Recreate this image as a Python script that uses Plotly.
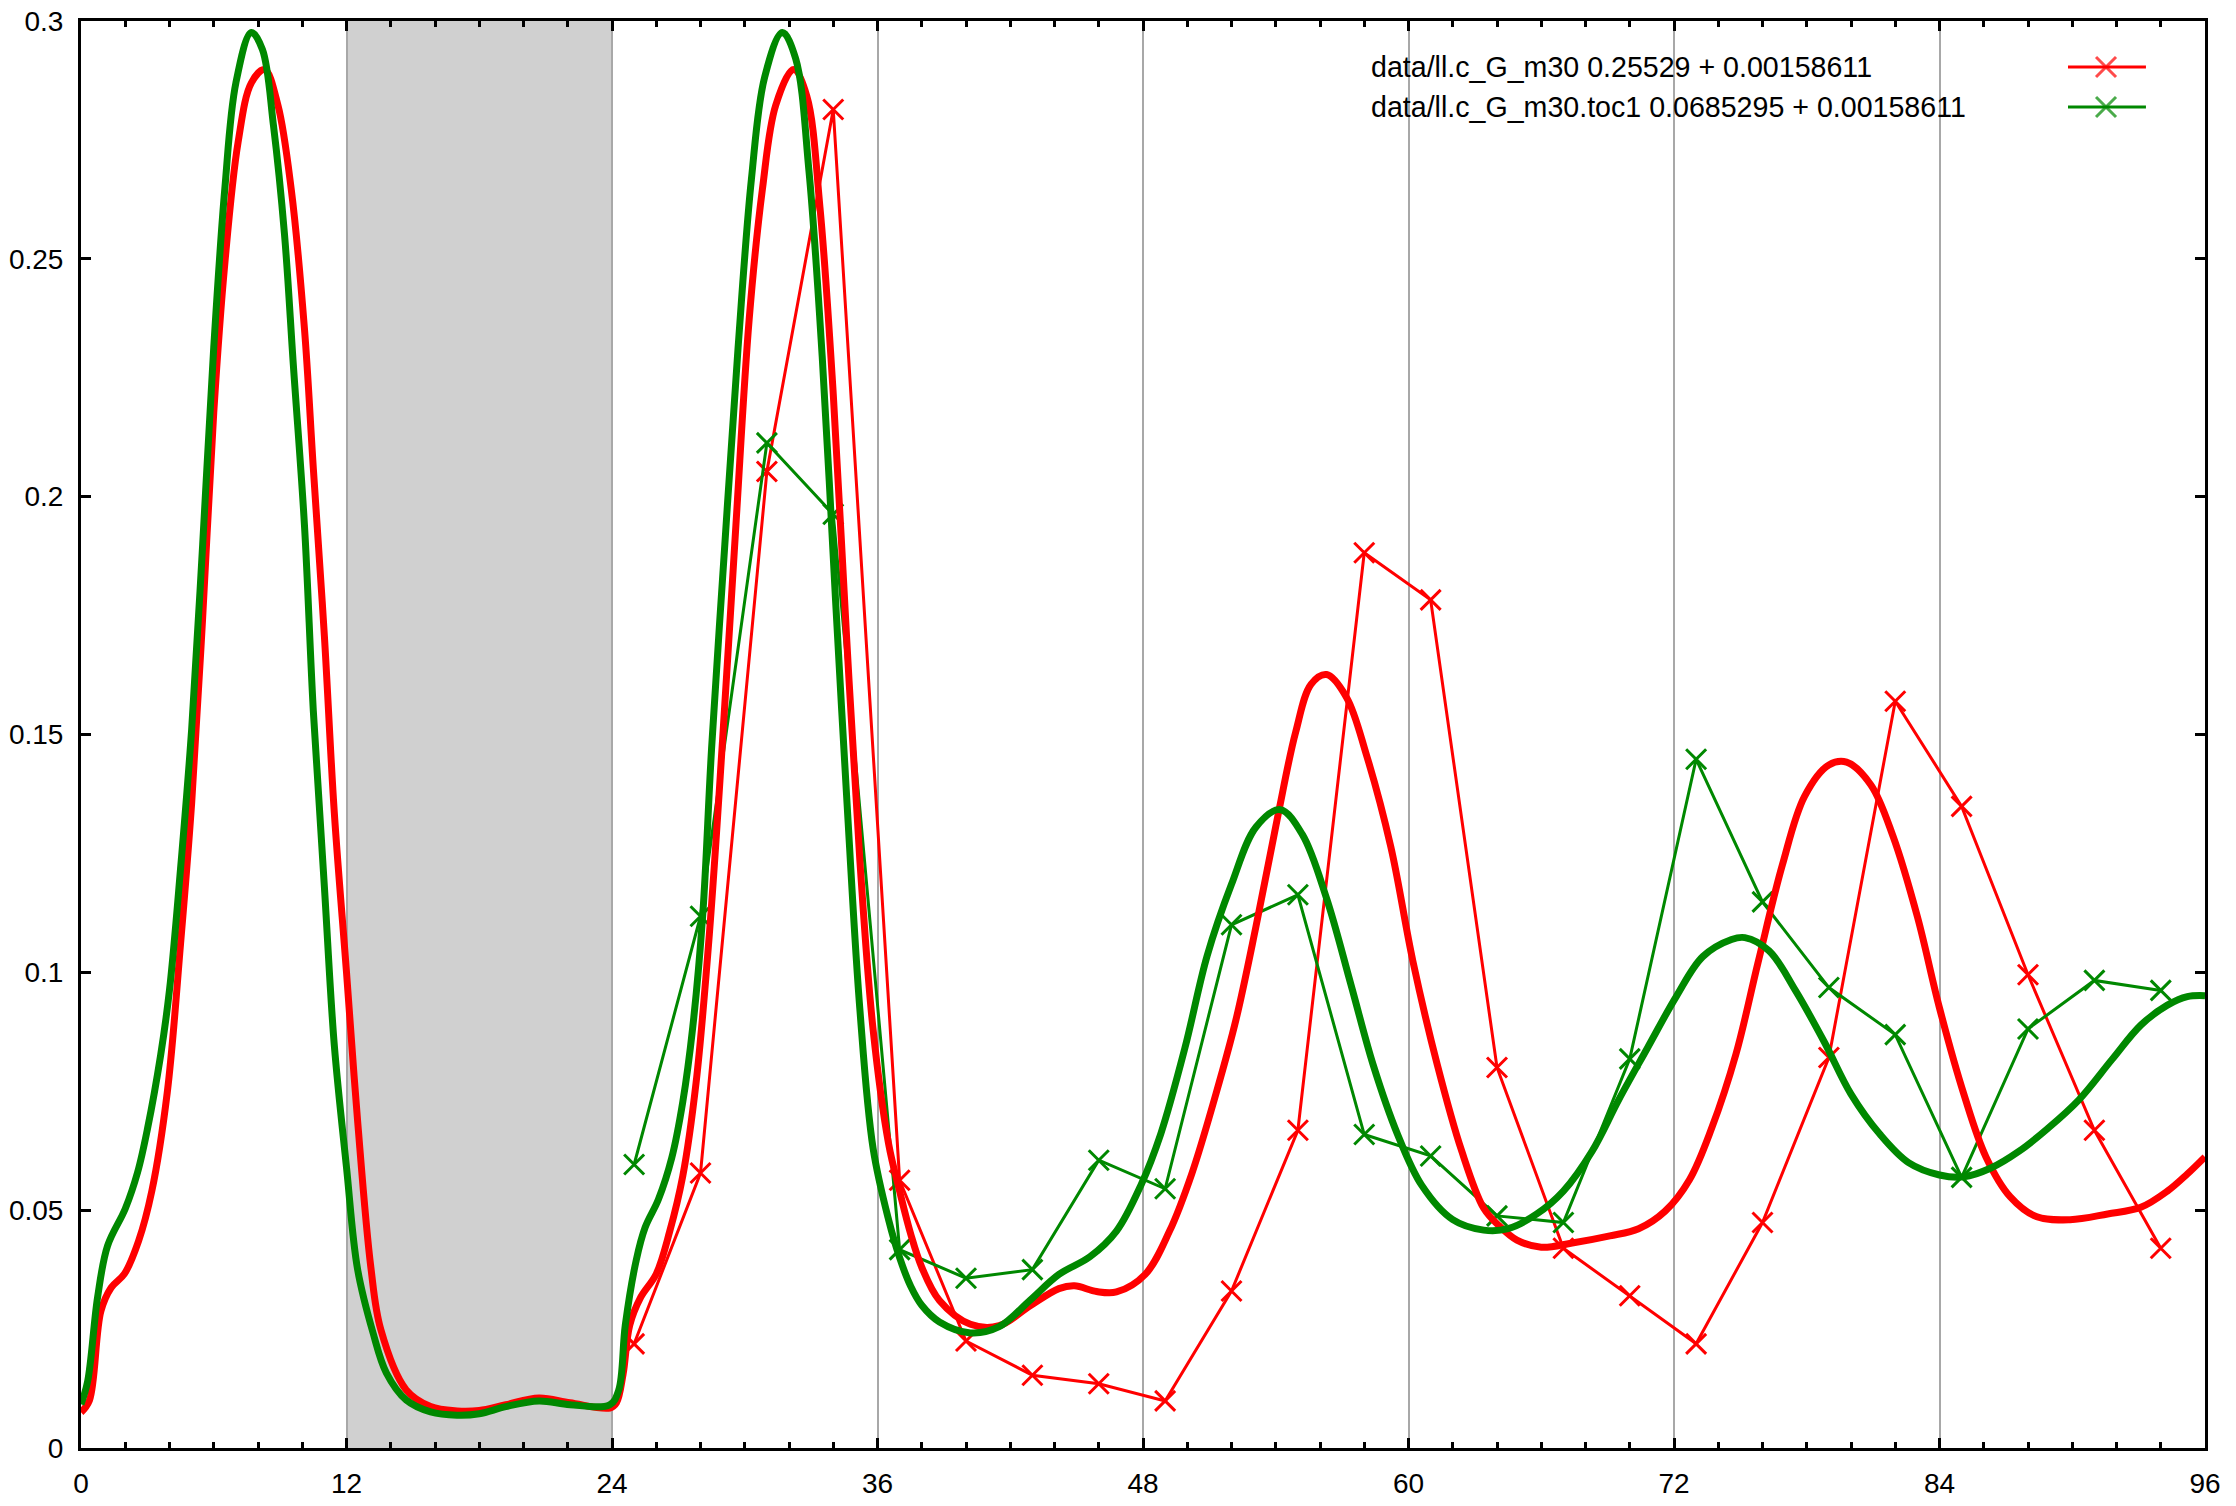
import plotly.graph_objects as go

# ---------------- data ----------------
# model curves (thick)
red_model_x = [0.0, 0.38, 0.9, 1.36, 1.96, 2.6, 3.2, 3.9, 4.5, 5.0, 5.5, 6.0, 6.5, 7.1, 7.7, 8.3, 8.9, 9.5,
               10.1, 10.5, 11.0, 11.45, 12.0, 12.5, 13.1, 13.55, 14.7, 15.8, 17.0, 18.0, 19.2, 20.7, 22.1,
               23.9, 24.2, 24.5, 24.8, 25.3, 26.0, 26.6, 27.2, 27.8, 28.4, 29.0, 29.6, 30.2, 30.8, 31.4,
               32.2, 32.8, 33.4, 34.0, 34.6, 35.2, 35.8, 36.5, 37.0, 37.5, 38.0, 38.8, 40.2, 41.5, 42.9,
               44.2, 44.9, 45.9, 46.8, 48.1, 49.2, 50.2, 51.3, 52.2, 53.1, 54.1, 54.9, 55.6, 56.3, 57.2,
               58.1, 59.2, 60.2, 61.3, 62.4, 63.4, 64.1, 64.9, 66.0, 67.4, 69.1, 70.4, 71.6, 72.7, 73.7,
               74.8, 75.8, 76.9, 77.9, 79.0, 79.8, 80.9, 81.9, 83.0, 84.0, 85.1, 86.1, 87.2, 88.4, 89.9,
               91.6, 93.1, 94.3, 95.2, 96.0]
red_model_y = [0.0075, 0.010, 0.0288, 0.0337, 0.0366, 0.0435, 0.054, 0.0748, 0.106, 0.1355, 0.1747, 0.2177,
               0.249, 0.2745, 0.287, 0.2898, 0.2823, 0.2647, 0.2353, 0.206, 0.1707, 0.1335, 0.100, 0.0689,
               0.038, 0.0249, 0.0122, 0.0087, 0.0078, 0.0079, 0.0091, 0.0105, 0.0095, 0.0084, 0.0095,
               0.0155, 0.0258, 0.0317, 0.0366, 0.0454, 0.0572, 0.0768, 0.108, 0.149, 0.194, 0.2373,
               0.2647, 0.2823, 0.2898, 0.2843, 0.2608, 0.2216, 0.1707, 0.1237, 0.088, 0.064, 0.054, 0.045,
               0.038, 0.031, 0.026, 0.0257, 0.0299, 0.0335, 0.0341, 0.0329, 0.0328, 0.0365, 0.0456, 0.0576,
               0.0745, 0.090, 0.1095, 0.133, 0.1505, 0.1606, 0.1626, 0.1578, 0.1457, 0.1264, 0.1023,
               0.0806, 0.0625, 0.0504, 0.0467, 0.0437, 0.0422, 0.0431, 0.0446, 0.0461, 0.0498, 0.0564,
               0.0672, 0.0828, 0.1021, 0.1226, 0.137, 0.1436, 0.1442, 0.1394, 0.1286, 0.1117, 0.0925,
               0.0744, 0.0612, 0.0528, 0.0486, 0.048, 0.0492, 0.0506, 0.054, 0.0576, 0.0612]

green_model_x = [0.0, 0.3, 0.75, 1.2, 2.0, 2.56, 3.0, 3.6, 4.0, 4.5, 5.0, 5.5, 6.0, 6.5, 7.0, 7.7, 8.2, 8.7,
                 9.2, 9.6, 10.1, 10.5, 11.0, 11.45, 12.0, 12.5, 13.2, 13.8, 14.7, 15.8, 17.0, 18.0, 19.2,
                 20.7, 22.1, 23.9, 24.3, 24.6, 25.1, 25.5, 26.1, 26.7, 27.2, 27.65, 28.1, 28.5, 29.1, 29.7,
                 30.3, 30.9, 31.7, 32.3, 32.9, 33.5, 34.1, 34.6, 35.2, 35.8, 36.5, 37.0, 37.5, 38.0, 38.8,
                 40.2, 41.5, 42.9, 44.2, 45.6, 46.8, 47.9, 48.8, 49.9, 50.9, 52.0, 53.1, 54.2, 55.2, 56.3,
                 57.4, 58.4, 59.5, 60.6, 62.0, 63.4, 64.5, 65.8, 67.0, 68.3, 69.5, 70.8, 72.1, 73.3, 74.6,
                 75.2, 76.3, 77.5, 78.8, 80.0, 81.3, 82.6, 84.0, 85.1, 86.3, 87.6, 88.9, 90.3, 91.8, 93.1,
                 94.3, 95.2, 96.0]
green_model_y = [0.0092, 0.014, 0.0317, 0.0425, 0.0503, 0.058, 0.067, 0.0826, 0.0963, 0.1218, 0.151, 0.190,
                 0.2314, 0.2647, 0.287, 0.2976, 0.294, 0.278, 0.255, 0.2275, 0.194, 0.155, 0.118, 0.0846,
                 0.059, 0.0376, 0.0242, 0.0158, 0.0101, 0.0076, 0.0069, 0.0072, 0.0087, 0.0099, 0.0091,
                 0.0091, 0.0121, 0.0258, 0.0396, 0.0464, 0.0523, 0.061, 0.0728, 0.0885, 0.112, 0.147, 0.19,
                 0.2314, 0.2667, 0.2882, 0.2976, 0.2921, 0.2686, 0.2295, 0.1786, 0.1374, 0.0924, 0.063,
                 0.048, 0.040, 0.034, 0.030, 0.0265, 0.0242, 0.0255, 0.0311, 0.0365, 0.0402, 0.0456,
                 0.0552, 0.066, 0.0842, 0.1035, 0.1185, 0.1305, 0.1342, 0.129, 0.1155, 0.0974, 0.0806,
                 0.066, 0.0552, 0.048, 0.0458, 0.0461, 0.0492, 0.054, 0.0624, 0.0732, 0.0841, 0.0949,
                 0.1033, 0.1069, 0.1073, 0.1045, 0.0961, 0.0853, 0.0744, 0.066, 0.060, 0.0574, 0.057,
                 0.0588, 0.0624, 0.0672, 0.0732, 0.0817, 0.0889, 0.0931, 0.0949, 0.0951]

# measured data (thin lines with x markers)
data_x = [25, 28, 31, 34, 37, 40, 43, 46, 49, 52, 55, 58, 61, 64, 67, 70, 73, 76, 79, 82, 85, 88, 91, 94]
red_data_y = [0.0219, 0.0578, 0.2053, 0.2814, 0.0563, 0.0225, 0.0153, 0.0135, 0.0099, 0.033, 0.0668, 0.1882,
              0.1783, 0.080, 0.042, 0.032, 0.0219, 0.0474, 0.0821, 0.157, 0.1349, 0.0995, 0.0668, 0.042]
green_data_y = [0.0596, 0.1118, 0.2113, 0.1963, 0.0417, 0.0357, 0.0375, 0.0605, 0.0545, 0.110, 0.1163, 0.0659,
                0.0614, 0.0488, 0.0474, 0.0818, 0.1448, 0.1148, 0.0968, 0.0869, 0.0569, 0.0881, 0.0983, 0.0962]

legend_labels = ["data/ll.c_G_m30 0.25529 + 0.00158611",
                 "data/ll.c_G_m30.toc1 0.0685295 + 0.00158611"]

x_ticks = [0, 12, 24, 36, 48, 60, 72, 84, 96]
y_ticks = [0, 0.05, 0.1, 0.15, 0.2, 0.25, 0.3]
y_tick_text = ["0", "0.05", "0.1", "0.15", "0.2", "0.25", "0.3"]
dark_band = [12, 24]

# ---------------- style ----------------
RED = "#ff0000"
GREEN = "#008800"
FONT = "Liberation Sans"
FS = 28
LEG_FS = 28.6

fig = go.Figure()

for y, c in [(red_data_y, RED), (green_data_y, GREEN)]:
    fig.add_trace(go.Scatter(
        x=data_x, y=y, mode="lines+markers",
        line=dict(color=c, width=3),
        marker=dict(symbol="x-thin", size=20, line=dict(color=c, width=3), color=c),
        showlegend=False, hoverinfo="skip"))

for xs, ys, c in [(red_model_x, red_model_y, RED), (green_model_x, green_model_y, GREEN)]:
    fig.add_trace(go.Scatter(
        x=xs, y=ys, mode="lines",
        line=dict(color=c, width=7, shape="spline", smoothing=1.0),
        showlegend=False, hoverinfo="skip"))

# custom legend (gnuplot style: text left, sample right)
leg_rows = [0.9678, 0.9397]
for lab, yy, c in zip(legend_labels, leg_rows, [RED, GREEN]):
    fig.add_annotation(x=0.6069, y=yy, xref="paper", yref="paper", text=lab,
                       showarrow=False, xanchor="left", yanchor="middle", borderpad=0,
                       font=dict(family=FONT, size=LEG_FS, color="black"))
    fig.add_trace(go.Scatter(
        x=[0.9355, 0.9534, 0.9722], y=[yy, yy, yy], xaxis="x2", yaxis="y2",
        mode="lines+markers", line=dict(color=c, width=3),
        marker=dict(symbol="x-thin", size=[0, 20, 0], line=dict(color=c, width=3), color=c),
        showlegend=False, hoverinfo="skip"))

# shaded night band
fig.add_shape(type="rect", xref="x", yref="paper", x0=dark_band[0], x1=dark_band[1], y0=0, y1=1,
              fillcolor="#d0d0d0", line=dict(width=0), layer="below")

axis_common = dict(showline=True, linecolor="black", linewidth=3, mirror="ticks",
                   ticks="inside", tickcolor="black", tickwidth=2.5, ticklen=10,
                   tickfont=dict(family=FONT, size=FS, color="black"), zeroline=False,
                   automargin=False, ticklabeloverflow="allow")

fig.update_layout(
    width=2236, height=1506,
    margin=dict(l=81, r=31, t=21, b=58),
    paper_bgcolor="white", plot_bgcolor="white",
    font=dict(family=FONT, size=FS, color="black"),
    xaxis=dict(range=[0, 96], tickmode="array", tickvals=x_ticks, ticktext=[str(v) for v in x_ticks],
               showgrid=True, gridcolor="#a8a8a8", gridwidth=1.5,
               minor=dict(tickmode="linear", tick0=0, dtick=2, ticks="inside", ticklen=6,
                          tickwidth=2.5, tickcolor="black", showgrid=False),
               ticklabelstandoff=8, **axis_common),
    yaxis=dict(range=[0, 0.3], tickmode="array", tickvals=y_ticks, ticktext=y_tick_text,
               showgrid=False, ticklabelstandoff=9, **axis_common),
    xaxis2=dict(overlaying="x", range=[0, 1], visible=False, fixedrange=True, automargin=False),
    yaxis2=dict(overlaying="y", range=[0, 1], visible=False, fixedrange=True, automargin=False),
)

# remove the default page margin so the figure sits at the window's top-left corner
fig.write_html("out.html", config={"displayModeBar": False},
               post_script="document.body.style.margin='0';")
